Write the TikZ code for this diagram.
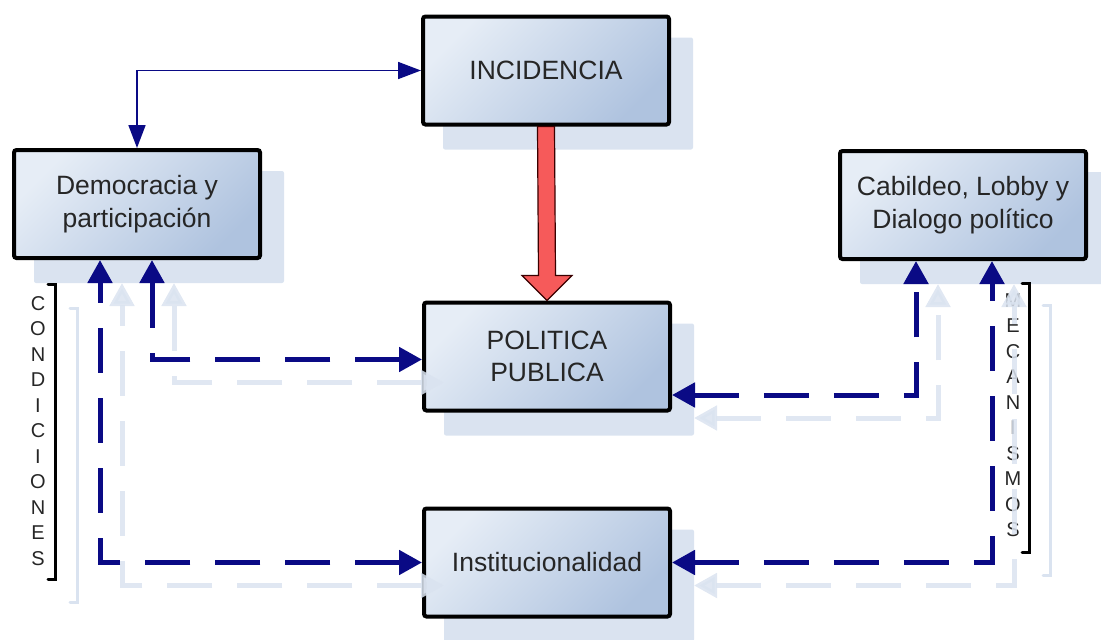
\documentclass[tikz,border=0pt]{standalone}
\usepackage{fontspec}
\setmainfont{Liberation Sans}
\usetikzlibrary{arrows.meta,backgrounds}
\definecolor{navy}{HTML}{0A0A85}
\definecolor{shad}{HTML}{DAE3F0}
\definecolor{boxA}{HTML}{E6EDF6}
\definecolor{boxB}{HTML}{AFC3DF}
\definecolor{txt}{HTML}{262626}
\definecolor{redf}{HTML}{F65A5A}
\definecolor{redd}{HTML}{3A0000}
\newcommand\dashconns[3]{%
  \draw[#3] ([shift={(#1,#2)}]inst.west) -| ([shift={(#1-37,#2)}]dem.south);
  \draw[#3] ([shift={(#1,#2+3)}]pol.west) -| ([shift={(#1+15,#2)}]dem.south);
  \draw[#3] ([shift={(#1,#2+38.5)}]pol.east) -| ([shift={(#1-47,#2)}]cab.south);
  \draw[#3] ([shift={(#1,#2)}]inst.east) -| ([shift={(#1+29,#2)}]cab.south);
}
\begin{document}
\begin{tikzpicture}[x=1pt,y=-1pt,
  box/.style={draw=black, line width=4pt, rounded corners=2.5pt,
    minimum width=246pt, minimum height=108pt, align=center, text=txt,
    font=\fontsize{26.5}{32.5}\selectfont,
    top color=boxA, bottom color=boxB, shading angle=45},
  vert/.style={align=center, text=txt, inner sep=0pt,
    font=\fontsize{20}{25.5}\selectfont},
  dline/.style={line width=5pt, dash pattern=on 45pt off 25pt, <->,
    >={Triangle[length=23pt,width=24pt]}},
  dmain/.style={dline, navy},
  dshad/.style={dline, shad, opacity=0.85},
  thin/.style={navy, line width=1.8pt, <->, >={Triangle[length=23pt,width=17pt]}},
  brack/.style={line width=3pt, line cap=round},
  redarrow/.style={fill=redf, draw=redd, line width=1.2pt, line join=miter}
]
\useasboundingbox (0,0) rectangle (1101,640);
% boxes
\node[box] (inc)  at (546,70.5)  {INCIDENCIA};
\node[box] (dem)  at (137,204)   {Democracia y\\participación};
\node[box] (pol)  at (547,356.5) {POLITICA\\PUBLICA};
\node[box] (cab)  at (963,205)   {Cabildeo, Lobby y\\Dialogo político};
\node[box] (inst) at (547,562.5) {Institucionalidad};
% vertical labels
\node[vert] (cond) at (38,431) {C\\O\\N\\D\\I\\C\\I\\O\\N\\E\\S};
\node[vert] (mec) at (1013,415) {M\\E\\C\\A\\N\\I\\S\\M\\O\\S};
% shadows
\begin{scope}[on background layer]
  \foreach \n in {inc,dem,pol,cab,inst}
    \fill[shad, rounded corners=2pt] ([shift={(22,23)}]\n.south west) rectangle ([shift={(22,23)}]\n.north east);
  \draw[shad, brack] (70,308) -- (77,308) -- (77,602) -- (70,602);
  \draw[shad, brack] (1043,305) -- (1050,305) -- (1050,575) -- (1043,575);
\end{scope}
% brackets
\draw[brack] (48,284) -- (55,284) -- (55,579) -- (48,579);
\draw[brack] (1022,283) -- (1029,283) -- (1029,552) -- (1022,552);
% connector shadows
\dashconns{22}{23}{dshad}
% connectors
\dashconns{0}{0}{dmain}
\draw[thin] (dem.north) |- (inc.west);
\draw[redarrow] ([shift={(-8.5,0)}]inc.south) -- ([shift={(8.5,0)}]inc.south)
  -- ([shift={(8.5,-25)}]pol.north) -- ([shift={(25,-25)}]pol.north)
  -- (pol.north) -- ([shift={(-25,-25)}]pol.north)
  -- ([shift={(-8.5,-25)}]pol.north) -- cycle;
\end{tikzpicture}
\end{document}
